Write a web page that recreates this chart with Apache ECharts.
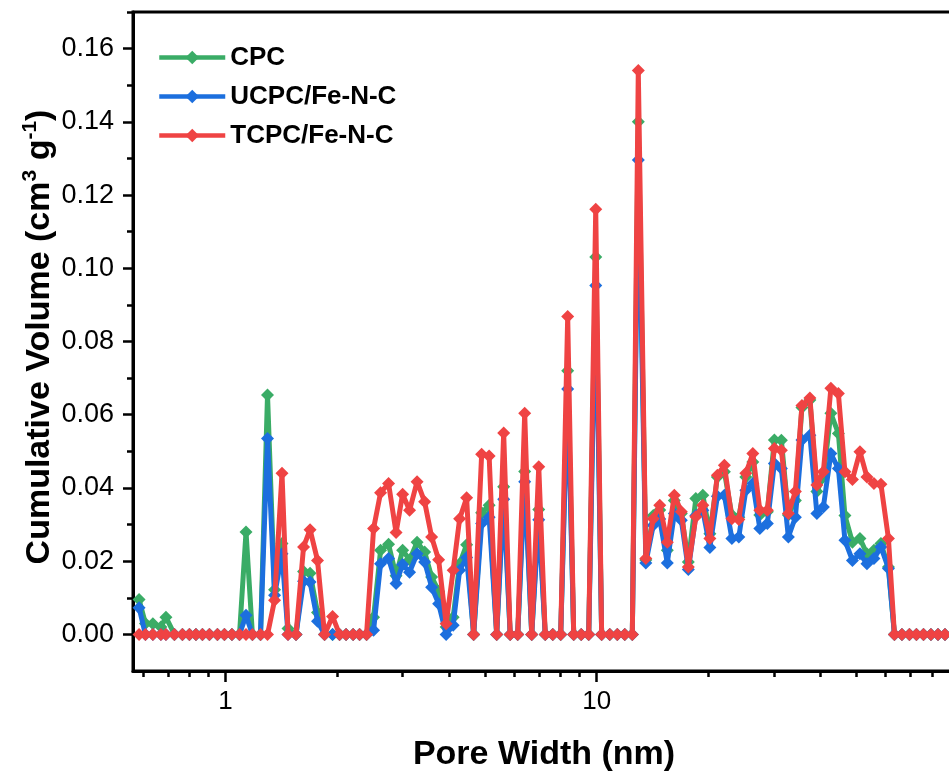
<!DOCTYPE html>
<html><head><meta charset="utf-8">
<script src="https://cdn.jsdelivr.net/npm/echarts@6/dist/echarts.min.js"></script>
<style>html,body{margin:0;padding:0;background:#fff}#c{width:949px;height:778px}</style>
</head><body><div id="c"></div>
<script>
// Pore width (nm)
const poreWidth = [0.5853,0.6087,0.6376,0.6700,0.6913,0.7288,0.7659,0.7998,0.8327,0.8670,
0.9055,0.9515,0.9938,1.041,1.091,1.136,1.182,1.243,1.298,1.356,
1.420,1.474,1.549,1.623,1.690,1.770,1.849,1.943,2.029,2.113,
2.207,2.297,2.399,2.506,2.617,2.750,2.881,3.000,3.133,3.282,
3.439,3.592,3.751,3.930,4.105,4.273,4.463,4.661,4.898,5.131,
5.377,5.615,5.847,6.126,6.397,6.682,6.980,7.266,7.613,7.998,
8.352,8.670,9.083,9.515,9.938,10.31,10.84,11.36,11.90,12.47,
12.94,13.56,14.20,14.78,15.49,16.18,16.90,17.65,18.49,19.31,
20.17,21.13,22.07,23.12,24.14,25.21,26.33,27.50,28.81,30.09,
31.43,32.82,34.28,35.70,37.51,39.17,40.78,42.72,44.76,46.61,
48.83,51.16,53.43,55.80,58.28,61.05,63.37,66.39,69.55,72.63,
75.87,79.48,83.01,86.70];

const cpc = [0.0095,0.003,0.0029,0.002,0.0047,0,0,0,0,0,
0,0,0,0,0,0.028,0,0,0.0654,0.0122,
0.0248,0.0016,0,0.0172,0.0167,0.006,0,0,0,0,
0,0,0,0.0047,0.023,0.0246,0.016,0.023,0.0204,0.0252,
0.0225,0.0157,0.0118,0.002,0.0047,0.0193,0.0245,0,0.0332,0.0353,
0,0.0403,0,0,0.0445,0,0.0341,0,0,0,
0.072,0,0,0,0.1031,0,0,0,0,0,
0.14,0.0203,0.0325,0.034,0.023,0.0366,0.033,0.0198,0.0371,0.038,
0.0275,0.043,0.0444,0.0326,0.032,0.043,0.0471,0.0326,0.0335,0.0531,
0.053,0.0326,0.0366,0.062,0.064,0.039,0.043,0.0604,0.0549,0.0325,
0.0252,0.0262,0.022,0.023,0.0248,0.0184,0,0,0,0,
0,0,0,0];

const ucpc = [0.0073,0,0,0,0,0,0,0,0,0,
0,0,0,0,0,0.0052,0,0,0.0535,0.0107,
0.022,0,0,0.0145,0.0143,0.0036,0,0,0,0,
0,0,0,0.0011,0.0193,0.0207,0.0139,0.0191,0.017,0.022,
0.0198,0.0129,0.0084,0,0.0025,0.0175,0.021,0,0.0303,0.032,
0,0.0369,0,0,0.0417,0,0.0313,0,0,0,
0.067,0,0,0,0.0953,0,0,0,0,0,
0.1296,0.0195,0.0298,0.0315,0.0195,0.033,0.0312,0.0177,0.0325,0.0339,
0.0237,0.0377,0.038,0.0262,0.0266,0.0394,0.0412,0.0289,0.0303,0.0467,
0.0453,0.0266,0.032,0.0531,0.0544,0.033,0.0348,0.0494,0.0453,0.0257,
0.0202,0.022,0.0193,0.0207,0.0239,0.018,0,0,0,0,
0,0,0,0];

const tcpc = [0,0,0,0,0,0,0,0,0,0,
0,0,0,0,0,0,0,0,0,0.0093,
0.044,0,0,0.0239,0.0286,0.0202,0,0.0049,0,0,
0,0,0,0.0289,0.0387,0.0412,0.0278,0.0383,0.0339,0.0417,
0.0362,0.0266,0.0204,0.0029,0.0175,0.0316,0.0373,0,0.0492,0.0487,
0,0.055,0,0,0.0604,0,0.0458,0,0,0,
0.0868,0,0,0,0.1161,0,0,0,0,0,
0.154,0.0207,0.0316,0.0353,0.0252,0.038,0.0335,0.0184,0.0321,0.0353,
0.0262,0.0435,0.0462,0.0316,0.0314,0.044,0.0494,0.0339,0.0339,0.0508,
0.0503,0.033,0.039,0.0625,0.0646,0.0408,0.0444,0.0672,0.0658,0.0444,
0.0423,0.0499,0.043,0.0412,0.041,0.0262,0,0,0,0,
0,0,0,0];

const seriesNames = ['CPC','UCPC/Fe-N-C','TCPC/Fe-N-C'];
const yMajorTicks = [0,0.02,0.04,0.06,0.08,0.10,0.12,0.14,0.16];
const yMinorTicks = [0.01,0.03,0.05,0.07,0.09,0.11,0.13,0.15,0.17];
const xLabelTicks = [1,10];
const xMajorTicks = [1,10,100];
const xMinorTicks = [0.6,0.7,0.8,0.9,2,3,4,5,6,7,8,9,20,30,40,50,60,70,80,90];

const FONT = '"Liberation Sans", Arial, sans-serif';
const colors = ['#3aac66','#1c6fde','#ef4343'];
const pair = arr => poreWidth.map((x,i)=>[x,arr[i]]);
const values = [cpc, ucpc, tcpc];

const chart = echarts.init(document.getElementById('c'), null, {renderer:'canvas'});
const xMin = 0.5636, xMax = 100;
chart.setOption({
  animation:false,
  backgroundColor:'#fff',
  grid:{left:133, top:12, width:835, height:659, show:true, borderColor:'#000', borderWidth:3,
        containLabel:false, outerBoundsMode:'none'},
  legend:{
    left:152, top:37, orient:'vertical', itemWidth:66, itemHeight:17, itemGap:8,
    data:seriesNames,
    lineStyle:{width:4.5},
    textStyle:{fontFamily:FONT, fontSize:26, fontWeight:'bold', color:'#000', lineHeight:31}
  },
  xAxis:[{
    type:'log', logBase:10, min:xMin, max:xMax,
    axisLine:{show:true, onZero:false, lineStyle:{color:'#000', width:3}},
    axisTick:{show:true, customValues:xMajorTicks, length:11, lineStyle:{color:'#000', width:2.5}},
    axisLabel:{customValues:xLabelTicks, fontFamily:FONT, fontSize:26, color:'#000', margin:18},
    splitLine:{show:false}, minorTick:{show:false}
  },{
    type:'log', logBase:10, min:xMin, max:xMax, position:'bottom',
    axisLine:{show:false, onZero:false},
    axisTick:{show:true, customValues:xMinorTicks, length:6, lineStyle:{color:'#000', width:2.5}},
    axisLabel:{show:false}, splitLine:{show:false}
  }],
  yAxis:[{
    type:'value', min:-0.01, max:0.17,
    axisLine:{show:true, onZero:false, lineStyle:{color:'#000', width:3}},
    axisTick:{show:true, customValues:yMajorTicks, length:10, lineStyle:{color:'#000', width:2.5}},
    axisLabel:{customValues:yMajorTicks, formatter:v=>Number(v).toFixed(2), fontFamily:FONT, fontSize:27, color:'#000', margin:19},
    splitLine:{show:false}
  },{
    type:'value', min:-0.01, max:0.17, position:'left',
    axisLine:{show:false, onZero:false},
    axisTick:{show:true, customValues:yMinorTicks, length:6, lineStyle:{color:'#000', width:2.5}},
    axisLabel:{show:false}, splitLine:{show:false}
  }],
  graphic:[{
    type:'text', x:40, y:337, rotation:Math.PI/2,
    style:{
      text:'{b|Cumulative Volume (cm}{s|3}{b| g}{s|-1}{b|)}',
      align:'center', verticalAlign:'middle',
      rich:{
        b:{fontFamily:FONT, fontSize:34, fontWeight:'bold', fill:'#000', lineHeight:40},
        s:{fontFamily:FONT, fontSize:21, fontWeight:'bold', fill:'#000', verticalAlign:'top', lineHeight:40}
      }
    }
  },{
    type:'text', x:544, y:755,
    style:{text:'Pore Width (nm)', fontFamily:FONT, fontSize:34, fontWeight:'bold', fill:'#000', align:'center', verticalAlign:'middle'}
  }],
  series: seriesNames.map((n,i)=>({
    name:n, type:'line', xAxisIndex:0, yAxisIndex:0,
    data:pair(values[i]),
    symbol:'diamond', symbolSize:13, showAllSymbol:true,
    lineStyle:{width:5, color:colors[i]},
    itemStyle:{color:colors[i]},
    clip:true, z:2+i
  }))
});
</script></body></html>
